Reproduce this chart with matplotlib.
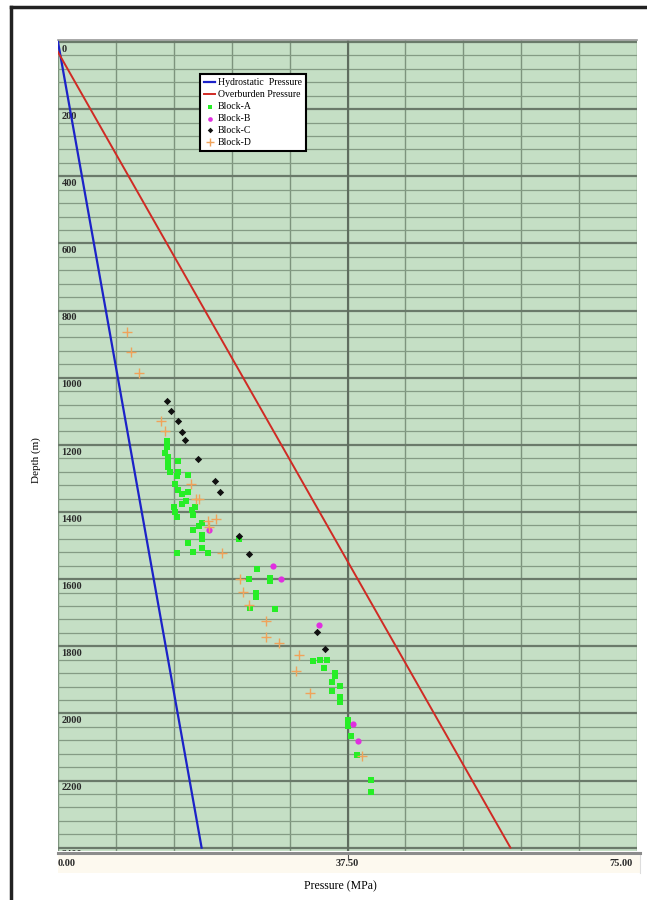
import numpy as np
import matplotlib
matplotlib.use('Agg')
import matplotlib.pyplot as plt
from matplotlib.lines import Line2D
from matplotlib.transforms import blended_transform_factory

plt.rcParams['font.family'] = ['Liberation Serif', 'DejaVu Serif']

# Pressure lines (MPa vs depth m)
hydro_depth = [0, 2400]
hydro_press = [0, 18.6]
over_depth = [30, 2400]
over_press = [0, 58.6]

# Block-A (green)
a_press = [14.1, 14.1, 13.9, 14.2, 14.2, 14.3, 14.5, 15.6, 15.6, 15.4, 16.9, 15.1,
           15.6, 16.1, 16.8, 15.0, 15.2, 15.4, 16.0, 16.6, 17.4, 17.8, 17.5, 18.7,
           18.2, 17.5, 18.7, 18.6, 16.8, 18.7, 17.5, 19.4, 15.4, 23.4, 25.8, 24.8,
           27.4, 27.4, 25.7, 25.7, 24.9, 28.1, 33.0, 33.9, 34.8, 34.5, 35.9, 35.9,
           35.5, 36.5, 35.5, 36.5, 36.5, 37.5, 37.5, 37.9, 38.7, 40.5, 40.6]
a_depth = [1190, 1205, 1223, 1235, 1250, 1265, 1280, 1247, 1280, 1292, 1289, 1318,
           1336, 1345, 1342, 1384, 1399, 1414, 1375, 1366, 1393, 1384, 1408, 1432,
           1443, 1455, 1470, 1482, 1491, 1506, 1518, 1521, 1521, 1482, 1571, 1601,
           1598, 1607, 1640, 1652, 1685, 1688, 1845, 1842, 1842, 1866, 1881, 1890,
           1908, 1917, 1932, 1952, 1967, 2021, 2039, 2068, 2125, 2199, 2235]

# Block-B (magenta)
b_press = [19.5, 27.9, 28.9, 33.8, 38.2, 38.8]
b_depth = [1455, 1562, 1601, 1738, 2033, 2083]

# Block-C (black)
c_press = [14.1, 14.7, 15.5, 16.0, 16.5, 18.1, 20.3, 21.0, 23.4, 24.8, 33.5, 34.6]
c_depth = [1068, 1098, 1128, 1161, 1185, 1241, 1307, 1342, 1473, 1524, 1759, 1807]

# Block-D (orange)
d_press = [8.9, 9.4, 10.5, 13.4, 13.9, 17.2, 17.9, 18.3, 19.4, 20.5, 19.6, 21.2,
           23.6, 24.0, 24.8, 27.0, 27.0, 28.6, 31.2, 30.8, 32.6, 39.4]
d_depth = [863, 923, 985, 1128, 1158, 1318, 1360, 1360, 1426, 1420, 1446, 1521,
           1601, 1637, 1676, 1726, 1771, 1789, 1827, 1875, 1940, 2128]

depth_ticks = [0, 200, 400, 600, 800, 1000, 1200, 1400, 1600, 1800, 2000, 2200, 2400]
x_tick_values = [0, 37.5, 75]
x_tick_labels = ['0.00', '37.50', '75.00']

fig = plt.figure(figsize=(6.47, 9.0), dpi=100)
ax = fig.add_axes([58 / 647, 1 - 851 / 900, 579 / 647, 811 / 900])
ax.set_facecolor('#c5dfc5')
ax.set_xlim(0, 75)
ax.set_ylim(2410, -6)

# grid
ax.set_xticks(np.arange(0, 75.1, 7.5))
ax.set_yticks(depth_ticks)
ax.set_yticks(np.arange(0, 2401, 40), minor=True)
ax.grid(which='minor', axis='y', color='#849b84', lw=0.9)
ax.grid(which='major', axis='y', color='#6a7a6a', lw=1.6)
ax.grid(which='major', axis='x', color='#7d937d', lw=1.0)
ax.axvline(37.5, color='#5f6d5f', lw=1.5)
ax.set_axisbelow(True)
ax.tick_params(which='both', length=0, labelbottom=False, labelleft=False)
for s in ax.spines.values():
    s.set_visible(False)
ax.spines['top'].set_visible(True)
ax.spines['top'].set_color('#9a9a9a')
ax.spines['top'].set_linewidth(1.2)

trans = blended_transform_factory(ax.transAxes, ax.transData)
for d in depth_ticks:
    ax.text(0.006, d + 8, str(d), transform=trans, ha='left', va='top',
            fontsize=7.5, fontweight='bold', color='#2a2a2a', clip_on=True)

ax.plot(hydro_press, hydro_depth, color='#1c22c8', lw=1.6, label='Hydrostatic  Pressure', zorder=3)
ax.plot(over_press, over_depth, color='#d02a24', lw=1.4, label='Overburden Pressure', zorder=3)
ax.scatter(a_press, a_depth, marker='s', s=15, color='#26ee26', lw=0, label='Block-A', zorder=4)
ax.scatter(b_press, b_depth, marker='o', s=20, color='#e02ee0', lw=0, label='Block-B', zorder=4)
ax.scatter(c_press, c_depth, marker='D', s=14, color='#111111', lw=0, label='Block-C', zorder=4)
ax.scatter(d_press, d_depth, marker='+', s=50, color='#f0a35a', lw=1.0, label='Block-D', zorder=4)

leg = ax.legend(loc='upper left', bbox_to_anchor=(200 / 647, 1 - 74 / 900),
                bbox_transform=fig.transFigure, borderaxespad=0, fontsize=7,
                handlelength=1.1, handletextpad=0.3, labelspacing=0.3,
                borderpad=0.45, markerscale=0.75, fancybox=False, framealpha=1)
leg.get_frame().set_edgecolor('black')
leg.get_frame().set_linewidth(1.5)

# x axis band
band = fig.add_axes([58 / 647, 1 - 873 / 900, 582 / 647, 20 / 900])
band.set_facecolor('#fdf9ef')
band.set_xlim(0, 75 * 582 / 579)
band.set_ylim(0, 1)
band.set_yticks([])
band.set_xticks([37.5])
band.tick_params(axis='x', direction='in', length=5, color='#555555',
                 labelbottom=False, bottom=False, top=True)
for s in band.spines.values():
    s.set_visible(False)
band.spines['top'].set_visible(True)
band.spines['top'].set_color('#8c8c8c')
band.spines['top'].set_linewidth(2.2)
band.spines['right'].set_visible(True)
band.spines['right'].set_color('#dddddd')
aligns = ['left', 'center', 'right']
for v, lab, ha in zip(x_tick_values, x_tick_labels, aligns):
    band.text(v if ha != 'right' else v - 0.6, 0.5, lab, ha=ha, va='center',
              fontsize=7.5, fontweight='bold', color='#2a2a2a')

fig.text(340 / 647, 1 - 886 / 900, 'Pressure (MPa)', ha='center', va='center', fontsize=8.5)
fig.text(36 / 647, 1 - 460 / 900, 'Depth (m)', ha='center', va='center',
         rotation=90, fontsize=8)

# outer frame
fig.add_artist(Line2D([11 / 647, 11 / 647], [0, 1 - 7 / 900], color='#222222', lw=2.5))
fig.add_artist(Line2D([11 / 647, 1], [1 - 7 / 900, 1 - 7 / 900], color='#222222', lw=2.5))

fig.savefig('out.png', dpi=100)
